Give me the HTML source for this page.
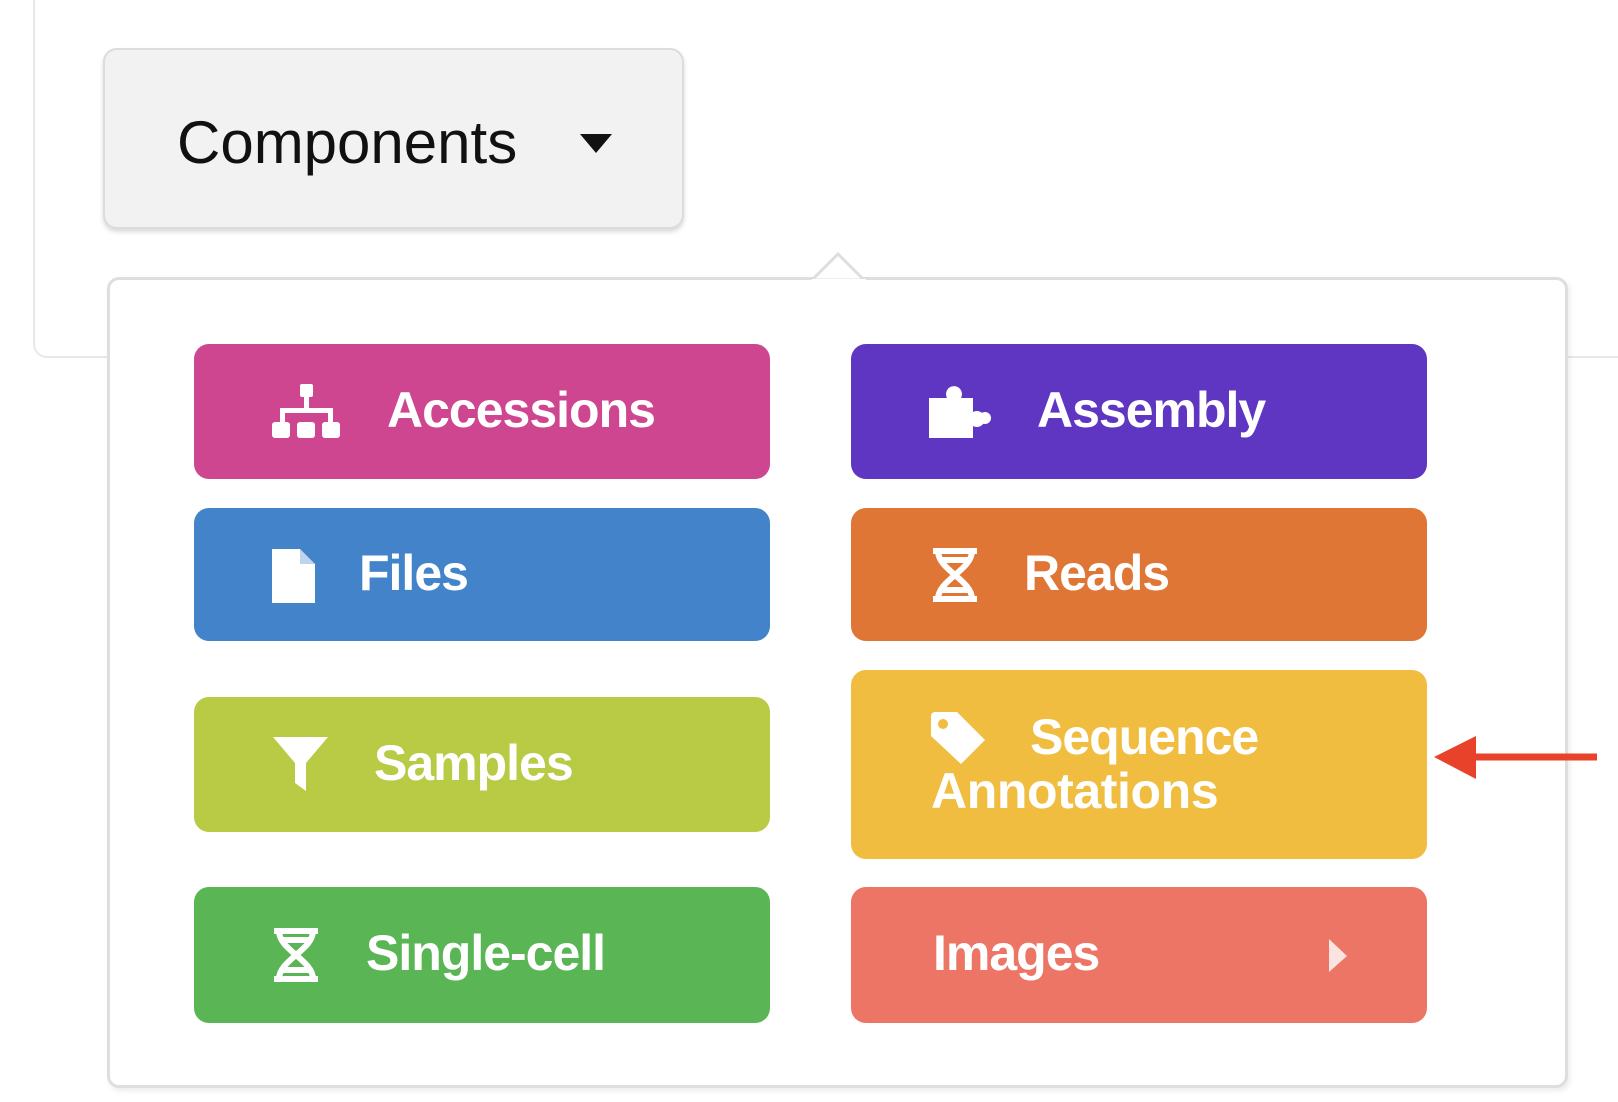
<!DOCTYPE html>
<html><head><meta charset="utf-8"><style>
body{margin:0;width:1618px;height:1102px;background:#fff;position:relative;overflow:hidden;font-family:"Liberation Sans",sans-serif}
.abs{position:absolute}
.card{left:33px;top:-20px;width:1620px;height:378px;border:2px solid #e6e8ec;border-radius:14px;box-sizing:border-box}
.btn{left:103px;top:48px;width:581px;height:181px;background:#f2f2f2;border:2px solid #dcdcdc;border-radius:14px;box-sizing:border-box;box-shadow:0 3px 5px rgba(0,0,0,.15)}
.btn span{position:absolute;left:72px;top:58px;font-size:60px;color:#111}
.panel{left:107px;top:277px;width:1461px;height:811px;background:#fff;border:3px solid #dedede;border-radius:12px;box-sizing:border-box;box-shadow:2px 3px 6px rgba(0,0,0,.08)}
.b{position:absolute;border-radius:15px;color:#fff;font-weight:bold;font-size:50px;letter-spacing:-1px}
.b .t{position:absolute;white-space:nowrap}
.b svg{position:absolute}
</style></head><body>
<div class="abs card"></div>
<div class="abs btn"><span>Components</span>
<svg class="abs" style="left:475px;top:84px" width="32" height="20"><polygon points="0,0 32,0 16,19" fill="#111"/></svg></div>
<div class="abs panel"></div>
<svg class="abs" style="left:812px;top:252px" width="54" height="30"><polygon points="0,28 26,2 52,28" fill="#fff" stroke="#dedede" stroke-width="3"/><rect x="0" y="27" width="54" height="4" fill="#fff"/></svg>

<div class="b" style="left:194px;top:344px;width:576px;height:135px;background:#cf4690">
<svg style="left:78px;top:40px" width="69" height="56"><rect x="28" y="0" width="13" height="13" rx="2" fill="#fff"/><rect x="32" y="13" width="5" height="14" fill="#fff"/><rect x="8" y="24" width="53" height="5" fill="#fff"/><rect x="8" y="24" width="5" height="14" fill="#fff"/><rect x="56" y="24" width="5" height="14" fill="#fff"/><rect x="0" y="38" width="18" height="16" rx="3" fill="#fff"/><rect x="25" y="38" width="18" height="16" rx="3" fill="#fff"/><rect x="50" y="38" width="18" height="16" rx="3" fill="#fff"/></svg>
<span class="t" style="left:193px;top:37px">Accessions</span></div>

<div class="b" style="left:851px;top:344px;width:576px;height:135px;background:#5e36c1">
<svg style="left:78px;top:40px" width="64" height="58"><path d="M0 14 H18 A8 8 0 1 1 32 14 H44 V28 A8 8 0 1 1 44 42 V54 H0 Z" fill="#fff"/><circle cx="56" cy="34" r="6" fill="#fff"/></svg>
<span class="t" style="left:186px;top:37px">Assembly</span></div>

<div class="b" style="left:194px;top:508px;width:576px;height:133px;background:#4383c9">
<svg style="left:78px;top:41px" width="44" height="54"><path d="M0 0 H28 L43 15 V54 H0 Z" fill="#fff"/><path d="M28 0 V15 H43" fill="#4383c9" opacity=".35"/></svg>
<span class="t" style="left:165px;top:36px">Files</span></div>

<div class="b" style="left:851px;top:508px;width:576px;height:133px;background:#e07635">
<svg style="left:80px;top:40px" width="48" height="54"><g stroke="#fff" stroke-width="6" fill="none"><line x1="2" y1="3" x2="46" y2="3"/><line x1="2" y1="51" x2="46" y2="51"/><path d="M7 3 C7 22 41 32 41 51"/><path d="M41 3 C41 22 7 32 7 51"/><line x1="10" y1="42" x2="38" y2="42"/><line x1="10" y1="12" x2="38" y2="12"/></g></svg>
<span class="t" style="left:173px;top:36px">Reads</span></div>

<div class="b" style="left:194px;top:697px;width:576px;height:135px;background:#b9ca44">
<svg style="left:79px;top:40px" width="56" height="56"><path d="M0 0 H55 L33 26 V54 L22 46 V26 Z" fill="#fff"/></svg>
<span class="t" style="left:180px;top:37px">Samples</span></div>

<div class="b" style="left:851px;top:670px;width:576px;height:189px;background:#f0bd41">
<svg style="left:80px;top:42px" width="56" height="54"><path d="M0 4 A4 4 0 0 1 4 0 H26 L54 28 L30 52 L0 24 Z" fill="#fff"/><circle cx="12" cy="12" r="5" fill="#f0bd41"/></svg>
<span class="t" style="left:179px;top:38px">Sequence</span>
<span class="t" style="left:80px;top:92px;letter-spacing:-0.4px">Annotations</span></div>

<div class="b" style="left:194px;top:887px;width:576px;height:136px;background:#5ab555">
<svg style="left:78px;top:41px" width="48" height="54"><g stroke="#fff" stroke-width="6" fill="none"><line x1="2" y1="3" x2="46" y2="3"/><line x1="2" y1="51" x2="46" y2="51"/><path d="M7 3 C7 22 41 32 41 51"/><path d="M41 3 C41 22 7 32 7 51"/><line x1="10" y1="42" x2="38" y2="42"/><line x1="10" y1="12" x2="38" y2="12"/></g></svg>
<span class="t" style="left:172px;top:37px">Single-cell</span></div>

<div class="b" style="left:851px;top:887px;width:576px;height:136px;background:#ec7565">
<span class="t" style="left:82px;top:37px">Images</span>
<svg style="left:478px;top:52px" width="20" height="34"><polygon points="0,0 18,17 0,33" fill="#fbe3df"/></svg></div>

<svg class="abs" style="left:1430px;top:730px" width="175" height="55"><line x1="40" y1="27" x2="167" y2="27" stroke="#e8432a" stroke-width="7"/><polygon points="4,27 46,6 46,49" fill="#e8432a"/></svg>
</body></html>
